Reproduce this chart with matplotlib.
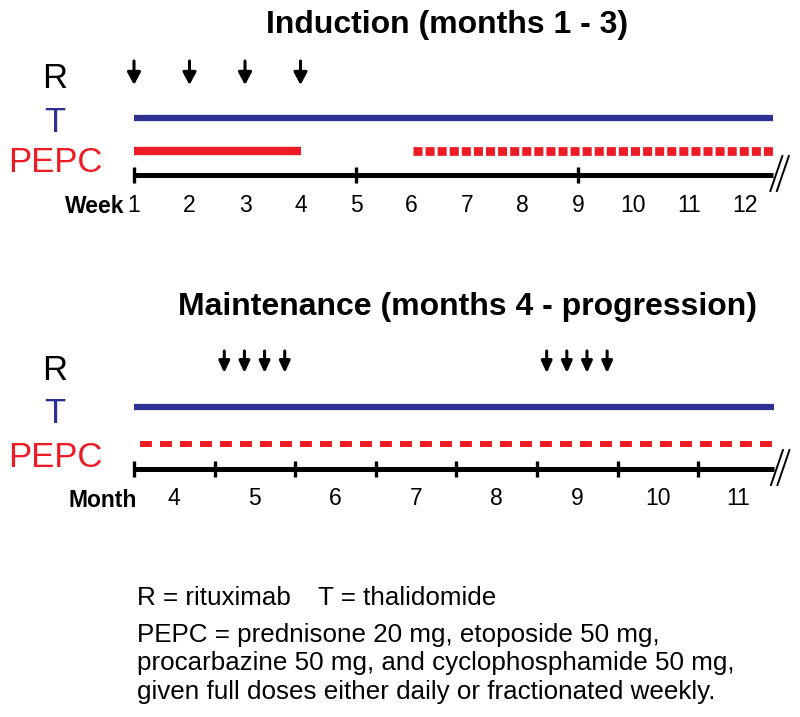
import matplotlib
matplotlib.use("Agg")
import matplotlib.pyplot as plt
import matplotlib.transforms as mtransforms

# --------------> DATA
week_labels = [str(w) for w in range(1, 13)]
week_pos = list(range(1, 13))
week_ticks = [1, 5, 9]
induction_start = 1
induction_end = 12.52
rituximab_weeks = [1, 2, 3, 4]
pepc_daily_weeks = [1, 4]
pepc_weekly_weeks = [6.03, 12.52]

month_labels = [str(m) for m in range(4, 12)]
month_pos = list(range(4, 12))
month_ticks = [3.5, 4.5, 5.5, 6.5, 7.5, 8.5, 9.5, 10.5]
maintenance_start = 3.5
maintenance_end = 11.44
rituximab_months = [4.62, 4.87, 5.12, 5.37, 8.62, 8.87, 9.12, 9.37]
pepc_maint_months = [3.58, 11.44]

legend_lines = [
    "PEPC = prednisone 20 mg, etoposide 50 mg,",
    "procarbazine 50 mg, and cyclophosphamide 50 mg,",
    "given full doses either daily or fractionated weekly.",
]

# --------------> STYLE
BLUE = "#2E3192"
RED = "#ED1C24"
plt.rcParams["font.family"] = ["Liberation Sans", "DejaVu Sans"]
plt.rcParams["lines.scale_dashes"] = False

W, H = 800, 717
fig = plt.figure(figsize=(W / 100, H / 100), dpi=100)


def px_axes(top, bottom):
    # axes spanning full width, y data == figure pixel row
    ax = fig.add_axes([0, 1 - bottom / H, 1, (bottom - top) / H])
    ax.set_ylim(bottom, top)
    ax.axis("off")
    return ax


def break_mark(ax, x, y):
    tr = fig.dpi_scale_trans + mtransforms.ScaledTranslation(x, y, ax.transData)
    for dx in (0.0, 0.065):
        ax.plot([dx - 0.03, dx + 0.09], [-0.16, 0.19], color="black",
                lw=1.4, transform=tr, clip_on=False)


def fig_text(x, y, text, **kw):
    # x, y in figure pixels (y from top)
    fig.text(x / W, 1 - y / H, text, **kw)


def row_label(text, base, color):
    fig_text(55, base, text, color=color, fontsize=25, ha="center",
             va="baseline")


# --------------> INDUCTION
ax1 = px_axes(0, 260)
ppw = 55.5  # pixels per week
ax1.set_xlim(1 - 134 / ppw, 1 + 666 / ppw)

fig_text(447, 33, "Induction (months 1 - 3)", fontsize=23, fontweight="bold",
         ha="center", va="baseline")

for w in rituximab_weeks:
    ax1.annotate("", xy=(w, 85), xytext=(w, 61),
                 arrowprops=dict(arrowstyle="-|>,head_length=0.75,head_width=0.4",
                                 lw=2.2, color="black", shrinkA=0, shrinkB=0,
                                 mutation_scale=10))

ax1.plot([induction_start, induction_end], [118, 118], color=BLUE, lw=4.5,
         solid_capstyle="butt")
ax1.plot(pepc_daily_weeks, [151, 151], color=RED, lw=6, solid_capstyle="butt")
ax1.plot(pepc_weekly_weeks, [151, 151], color=RED, lw=6.3,
         linestyle=(0, (6.5, 2.2)), dash_capstyle="butt")
ax1.plot([induction_start, induction_end], [175, 175], color="black", lw=3.6,
         solid_capstyle="butt")
ax1.vlines(week_ticks, 167, 183, color="black", lw=2.4)
break_mark(ax1, induction_end, 175)
for x, lab in zip(week_pos, week_labels):
    ax1.text(x, 212, lab, fontsize=16.5, ha="center", va="baseline")
fig_text(124, 213, "Week", fontsize=16.5, fontweight="bold", ha="right",
         va="baseline")

row_label("R", 88, "black")
row_label("T", 132, BLUE)
row_label("PEPC", 172, RED)

# --------------> MAINTENANCE
ax2 = px_axes(270, 540)
ppm = 80.6  # pixels per month
ax2.set_xlim(3.5 - 134 / ppm, 3.5 + 666 / ppm)

fig_text(467, 315, "Maintenance (months 4 - progression)", fontsize=23,
         fontweight="bold", ha="center", va="baseline")

for m in rituximab_months:
    ax2.annotate("", xy=(m, 373), xytext=(m, 351),
                 arrowprops=dict(arrowstyle="-|>,head_length=0.7,head_width=0.32",
                                 lw=2.2, color="black", shrinkA=0, shrinkB=0,
                                 mutation_scale=10))

ax2.plot([maintenance_start, maintenance_end], [407, 407], color=BLUE, lw=4.5,
         solid_capstyle="butt")
ax2.plot(pepc_maint_months, [444, 444], color=RED, lw=4.3,
         linestyle=(0, (8.6, 5.8)), dash_capstyle="butt")
ax2.plot([maintenance_start, maintenance_end], [469, 469], color="black", lw=3.6,
         solid_capstyle="butt")
ax2.vlines(month_ticks, 461, 477, color="black", lw=2.4)
break_mark(ax2, maintenance_end, 469)
for x, lab in zip(month_pos, month_labels):
    ax2.text(x, 505, lab, fontsize=16.5, ha="center", va="baseline")
fig_text(137, 507, "Month", fontsize=16.5, fontweight="bold", ha="right",
         va="baseline")

row_label("R", 380, "black")
row_label("T", 423, BLUE)
row_label("PEPC", 467, RED)

# --------------> LEGEND TEXT
fig_text(137, 605, "R = rituximab", fontsize=18.7, va="baseline")
fig_text(318, 605, "T = thalidomide", fontsize=18.7, va="baseline")
for line, base in zip(legend_lines, [642, 670, 699]):
    fig_text(137, base, line, fontsize=18.7, va="baseline")

fig.savefig("out.png", dpi=100)
